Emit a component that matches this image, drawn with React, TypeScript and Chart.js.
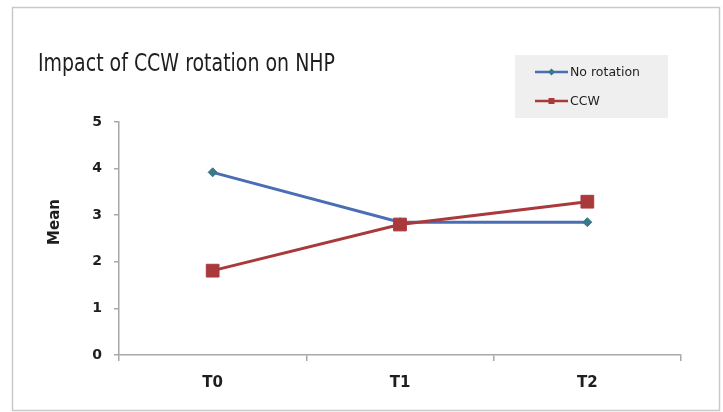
import React, { useEffect, useRef } from "react";
import { Chart, registerables } from "chart.js";

Chart.register(...registerables);

// Chart content
const chartTitle = "Impact of CCW rotation on NHP";
const yAxisTitle = "Mean";
const timepoints = ["T0", "T1", "T2"];
const seriesNames = ["No rotation", "CCW"];
const noRotationMeans = [3.92, 2.85, 2.85];
const ccwMeans = [1.81, 2.8, 3.29];
const yMin = 0;
const yMax = 5;
const yStep = 1;

const BLUE = "#4a6db4";
const BLUE_MARK = "#3b7888";
const RED = "#a9393b";
const AXIS = "#a8a8a8";
const TEXT = "#1e1e1e";

const framePlugin = {
  id: "frame",
  beforeDraw(chart: any) {
    const { ctx, width, height } = chart;
    ctx.save();
    ctx.fillStyle = "#ffffff";
    ctx.fillRect(0, 0, width, height);
    ctx.strokeStyle = "#c9c9c9";
    ctx.lineWidth = 1.5;
    ctx.strokeRect(12.5, 7.5, 707, 403);
    ctx.restore();
  },
};

const textPlugin = {
  id: "texts",
  afterDraw(chart: any) {
    const { ctx } = chart;
    ctx.save();
    // title, drawn slightly narrowed
    ctx.fillStyle = TEXT;
    ctx.font = "24px 'DejaVu Sans'";
    ctx.textBaseline = "alphabetic";
    ctx.textAlign = "left";
    const w = ctx.measureText(chartTitle).width;
    const targetW = 297;
    ctx.translate(38, 71);
    ctx.scale(targetW / w, 1);
    ctx.fillText(chartTitle, 0, 0);
    ctx.restore();

    // y axis title
    ctx.save();
    ctx.fillStyle = TEXT;
    ctx.font = "bold 15px 'DejaVu Sans'";
    ctx.textAlign = "center";
    ctx.textBaseline = "middle";
    ctx.translate(55, 222);
    ctx.rotate(-Math.PI / 2);
    ctx.fillText(yAxisTitle, 0, 0);
    ctx.restore();

    // legend
    ctx.save();
    ctx.fillStyle = "#efefef";
    ctx.fillRect(515, 55, 153, 63);
    const rows = [72, 101];
    chart.data.datasets.forEach((ds: any, i: number) => {
      const y = rows[i];
      ctx.strokeStyle = ds.borderColor;
      ctx.lineWidth = 2.5;
      ctx.beginPath();
      ctx.moveTo(535, y);
      ctx.lineTo(568, y);
      ctx.stroke();
      ctx.fillStyle = ds.pointBackgroundColor;
      ctx.beginPath();
      if (ds.pointStyle === "rectRot") {
        ctx.moveTo(551.5, y - 3.5);
        ctx.lineTo(555, y);
        ctx.lineTo(551.5, y + 3.5);
        ctx.lineTo(548, y);
        ctx.closePath();
      } else {
        ctx.rect(548.5, y - 3, 6, 6);
      }
      ctx.fill();
      ctx.fillStyle = TEXT;
      ctx.font = "12.5px 'DejaVu Sans'";
      ctx.textAlign = "left";
      ctx.textBaseline = "middle";
      ctx.fillText(ds.label, 570, y + 0.5);
    });
    ctx.restore();
  },
};

export default function App() {
  const canvasRef = useRef<HTMLCanvasElement | null>(null);

  useEffect(() => {
    const canvas = canvasRef.current;
    if (!canvas) return;
    const chart = new Chart(canvas, {
      type: "line",
      data: {
        labels: timepoints,
        datasets: [
          {
            label: seriesNames[0],
            data: noRotationMeans,
            borderColor: BLUE,
            borderWidth: 3,
            pointStyle: "rectRot",
            pointRadius: 4.5,
            pointBackgroundColor: BLUE_MARK,
            pointBorderColor: BLUE_MARK,
            pointBorderWidth: 1,
            order: 1,
          },
          {
            label: seriesNames[1],
            data: ccwMeans,
            borderColor: RED,
            borderWidth: 3,
            pointStyle: "rect",
            pointRadius: 9,
            pointBackgroundColor: RED,
            pointBorderColor: RED,
            pointBorderWidth: 1,
            order: 0,
          },
        ] as any,
      },
      options: {
        responsive: false,
        devicePixelRatio: 1,
        animation: false,
        layout: { padding: { left: 0, right: 42, top: 122, bottom: 0 } },
        plugins: {
          legend: { display: false },
          title: { display: false },
          tooltip: { enabled: false },
        },
        scales: {
          x: {
            offset: true,
            grid: {
              offset: true,
              drawOnChartArea: false,
              drawTicks: true,
              tickLength: 6,
              color: AXIS,
              lineWidth: 1.5,
            },
            border: { color: AXIS, width: 1.5 },
            ticks: {
              color: TEXT,
              padding: 13,
              font: { family: "'DejaVu Sans'", size: 15, weight: "bold" },
            },
            afterFit(scale: any) {
              scale.height = 57;
            },
          },
          y: {
            min: yMin,
            max: yMax,
            ticks: {
              stepSize: yStep,
              color: TEXT,
              padding: 12,
              font: { family: "'DejaVu Sans'", size: 14, weight: "bold" },
            },
            grid: {
              drawOnChartArea: false,
              drawTicks: true,
              tickLength: 5,
              color: AXIS,
              lineWidth: 1.5,
            },
            border: { color: AXIS, width: 1.5 },
            afterFit(scale: any) {
              scale.width = 119;
            },
          },
        },
      } as any,
      plugins: [framePlugin, textPlugin],
    });
    return () => chart.destroy();
  }, []);

  return (
    <div style={{ position: "absolute", left: 0, top: 0, width: 723, height: 412 }}>
      <canvas ref={canvasRef} width={723} height={412} />
    </div>
  );
}
